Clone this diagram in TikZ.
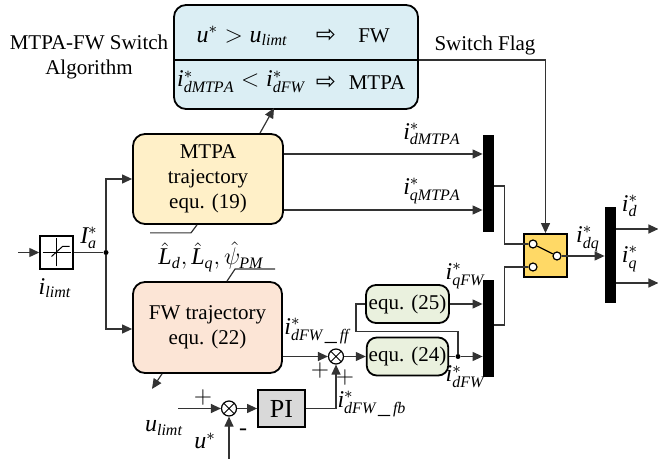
\documentclass[tikz,border=0pt]{standalone}
\usepackage{fontspec}
\setmainfont{Liberation Serif}
\newfontfamily\symfnt{DejaVu Sans}
\usetikzlibrary{arrows.meta,calc}
\definecolor{clrblue}{RGB}{219,238,244}
\definecolor{clrmtpa}{RGB}{255,240,200}
\definecolor{clrfw}{RGB}{252,229,214}
\definecolor{clreq}{RGB}{234,241,222}
\definecolor{clrsw}{RGB}{255,217,102}
\definecolor{clrpi}{RGB}{217,217,217}
\newcommand{\mi}[1]{\mathit{#1}}
\begin{document}
\begin{tikzpicture}[x=0.5pt, y=-0.5pt,
    font=\fontsize{10.5}{12.5}\selectfont,
    box/.style={draw, line width=0.9pt, rounded corners=6pt, align=center, inner sep=1pt},
    mux/.style={fill=black, minimum width=5.5pt, minimum height=48.5pt, inner sep=0pt},
    sumj/.style={circle, draw, line width=0.6pt, fill=white, minimum size=7.5pt, inner sep=0pt,
                 path picture={\draw[line width=0.5pt]
                   (path picture bounding box.north west) -- (path picture bounding box.south east)
                   (path picture bounding box.north east) -- (path picture bounding box.south west);}},
    swpin/.style={circle, draw, fill=white, line width=0.6pt, minimum size=4pt, inner sep=0pt},
    dot/.style={circle, fill=black, minimum size=2.5pt, inner sep=0pt},
    line/.style={black!80, line width=0.6pt},
    arr/.style={line, -{Triangle[length=5pt,width=4.5pt]}},
    lbl/.style={inner sep=0pt},
    mlbl/.style={inner sep=0pt, font=\fontsize{12}{14}\selectfont},
  ]
    \useasboundingbox (0,0) rectangle (658,459);

    % switch algorithm
    \node[box, fill=clrblue, minimum width=122pt, minimum height=52pt] (alg) at (296,57) {};
    \draw[black, line width=0.6pt] ([yshift=-1.5pt]alg.west) -- ([yshift=-1.5pt]alg.east);
    \node[mlbl] (cnda) at (242,36) {$\mi{u}^{*}>\mi{u}_{\mi{limt}}$};
    \node[lbl, font=\fontsize{12}{14}\selectfont] (arra) at (326,36) {\symfnt ⇨};
    \node[lbl] (modea) at (374,36) {FW};
    \node[mlbl] (cndb) at (241,82) {$\mi{i}^{*}_{\mi{dMTPA}}<\mi{i}^{*}_{\mi{dFW}}$};
    \node[lbl, font=\fontsize{12}{14}\selectfont] (arrb) at (326,83) {\symfnt ⇨};
    \node[lbl] (modeb) at (377,83) {MTPA};
    \node[lbl, align=center] (algname) at (89,57) {MTPA-FW Switch\\Algorithm};
    \node[lbl] (flagname) at (485,45) {Switch Flag};

    % trajectory blocks
    \node[box, fill=clrmtpa, minimum width=75pt, minimum height=45pt] (mtpa) at (208,179)
         {MTPA\\trajectory\\equ. (19)};
    \node[box, fill=clrfw, minimum width=74.5pt, minimum height=45.5pt] (fw) at (207.5,327.5)
         {FW trajectory\\equ. (22)};
    \node[box, fill=clreq, rounded corners=5pt, minimum width=41.5pt, minimum height=19pt] (eqb) at (407.5,304) {equ. (25)};
    \node[box, fill=clreq, rounded corners=5pt, minimum width=39.5pt, minimum height=19pt] (eqa) at (407.5,356.5) {equ. (24)};

    % limiter
    \node[draw, line width=0.7pt, fill=white, minimum size=16.5pt, inner sep=0pt] (sat) at (56.5,252.5) {};
    \draw[line width=0.5pt] ([xshift=-7pt]sat.center) -- ([xshift=7pt]sat.center)
                            ([yshift=-7pt]sat.center) -- ([yshift=7pt]sat.center);
    \draw[line width=0.5pt] ([shift={(-5,4)}]sat.center) -- ([shift={(6,-6)}]sat.center) -- ([shift={(13,-6)}]sat.center);
    \coordinate (iin) at (18,252.5);
    \node[dot] (ja) at (106,252.5) {};

    % muxes and switch
    \node[mux] (muxa) at (488.5,183.5) {};
    \node[mux] (muxb) at (488.5,328.5) {};
    \node[mux, minimum height=48pt] (muxc) at (610.5,255) {};
    \node[draw, line width=0.9pt, fill=clrsw, minimum size=21.5pt, inner sep=0pt] (sw) at (545.5,255.5) {};
    \node[swpin] (pa) at (533,244) {};
    \node[swpin] (pb) at (533,267) {};
    \node[swpin] (pc) at (557,256) {};
    \draw[line width=0.6pt] (pa) -- (pc);

    % PI loop
    \node[sumj] (sumu) at (229,408.5) {};
    \node[sumj] (sumf) at (336,356.5) {};
    \node[draw, line width=0.9pt, fill=clrpi, minimum width=23.5pt, minimum height=18.5pt,
          font=\fontsize{13}{14}\selectfont] (pi) at (281.5,408.5) {PI};
    \coordinate (ulim) at (178,408.5);
    \coordinate (uref) at (229,459);
    \node[dot] (jb) at (458,356.5) {};

    % connectors
    \draw[arr] (iin) -- (sat);
    \draw[line] (sat) -- (ja);
    \draw[arr] (ja) |- (mtpa.west);
    \draw[arr] (ja) |- ([yshift=-0.75pt]fw.west);
    \draw[arr] ([xshift=26pt]mtpa.north) -- ++(14,-25);
    \draw[arr] ([xshift=-22.75pt]fw.south) -- ++(-10,15);
    \draw[line] ([xshift=-5.5pt]mtpa.south) -- ++(-6,8) -- ++(-41,0);
    \draw[line] ([xshift=9.75pt]fw.north) -- ++(8,-12) -- ++(40,0);
    \draw[arr] ([yshift=12.5pt]mtpa.east) coordinate (md) -- (md -| muxa.west);
    \draw[arr] ([yshift=-15.5pt]mtpa.east) coordinate (mq) -- (mq -| muxa.west);
    \draw[line] ([yshift=-1.25pt]muxa.east) -- ++(10,0) |- (pa);
    \draw[line] ([yshift=1.75pt]muxb.east) -- ++(10,0) |- (pb);
    \draw[arr] (pc) -- (pc -| muxc.west);
    \draw[arr] ([yshift=13pt]muxc.east) coordinate (od) -- ++(42,0);
    \draw[arr] ([yshift=-14pt]muxc.east) coordinate (oq) -- ++(42,0);
    \draw[arr] ([yshift=-1.5pt]alg.east) -| (sw.north);
    \draw[arr] ([yshift=-14.5pt]fw.east) coordinate (ff) -- (sumf);
    \draw[arr] (sumf) -- (eqa);
    \draw[line] (eqa) -- (jb);
    \draw[arr] (jb) -- (jb -| muxb.west);
    \draw[line] (jb) -- ++(0,-25) -- ++(-102,0) |- (eqb.west);
    \draw[arr] (eqb.east) -- (eqb.east -| muxb.west);
    \draw[arr] (ulim) -- (sumu);
    \draw[arr] (uref) -- (sumu);
    \draw[arr] (sumu) -- (pi);
    \draw[arr] (pi.east) -| (sumf.south);

    % signal labels
    \node[mlbl] (lia) at (89,238) {$\mi{I}^{*}_{\mi{a}}$};
    \node[mlbl] (lil) at (55,288) {$\mi{i}_{\mi{limt}}$};
    \node[mlbl] (lpar) at (211,257) {$\hat{\mi{L}}_{\mi{d}},\hat{\mi{L}}_{\mi{q}},\hat{\psi}_{\mi{PM}}$};
    \node[mlbl] (ldm) at (432,134) {$\mi{i}^{*}_{\mi{dMTPA}}$};
    \node[mlbl] (lqm) at (432,191) {$\mi{i}^{*}_{\mi{qMTPA}}$};
    \node[mlbl] (ldq) at (588,239) {$\mi{i}^{*}_{\mi{dq}}$};
    \node[mlbl] (ld) at (630,206) {$\mi{i}^{*}_{\mi{d}}$};
    \node[mlbl] (lq) at (630,259) {$\mi{i}^{*}_{\mi{q}}$};
    \node[mlbl] (lqf) at (465,276) {$\mi{i}^{*}_{\mi{qFW}}$};
    \node[mlbl] (ldf) at (465,377) {$\mi{i}^{*}_{\mi{dFW}}$};
    \node[mlbl] (lff) at (317,331) {$\mi{i}^{*}_{\mi{dFW}\,\_\,\mi{ff}}$};
    \node[mlbl] (lfb) at (372,404) {$\mi{i}^{*}_{\mi{dFW}\,\_\,\mi{fb}}$};
    \node[mlbl] (lul) at (164,428) {$\mi{u}_{\mi{limt}}$};
    \node[mlbl] (lus) at (205,441) {$\mi{u}^{*}$};
    \node[mlbl] (spa) at (203,397) {$+$};
    \node[mlbl] (sma) at (243,432) {-};
    \node[mlbl] (spb) at (320,371) {$+$};
    \node[mlbl] (spc) at (345,378) {$+$};
  \end{tikzpicture}
\end{document}
